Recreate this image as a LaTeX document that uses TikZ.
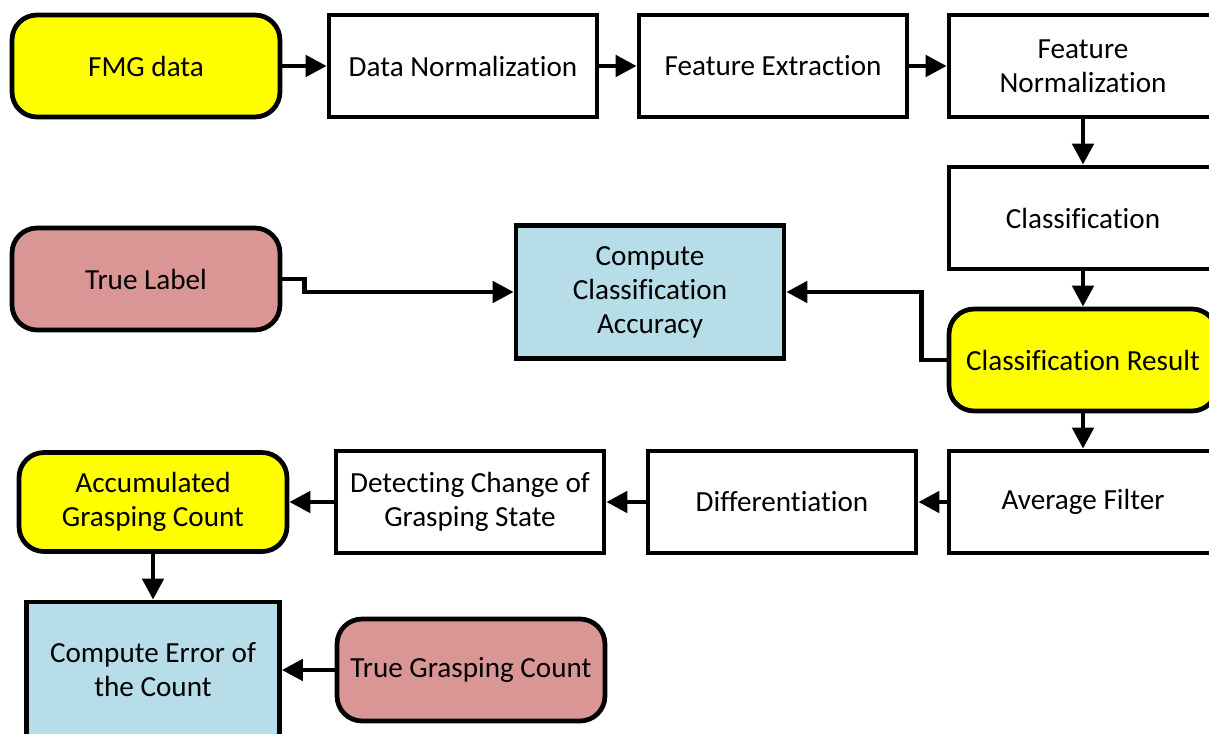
\documentclass[tikz,border=0pt]{standalone}
\usepackage{fontspec}
\setmainfont{Carlito}[Ligatures={NoCommon}]
\usetikzlibrary{arrows.meta}

\definecolor{termyellow}{RGB}{255,255,0}
\definecolor{truepink}{RGB}{218,150,148}
\definecolor{computeblue}{RGB}{183,222,232}

\tikzset{
  stepbox/.style={draw, line width=2.7pt, fill=white, minimum width=5.36cm,
    minimum height=2.04cm, align=center, font=\fontsize{16.6}{19.4}\selectfont},
  termbox/.style={stepbox, rounded corners=0.5cm, fill=termyellow},
  truebox/.style={stepbox, rounded corners=0.5cm, fill=truepink},
  computebox/.style={stepbox, fill=computeblue},
  flow/.style={line width=2.7pt, -{Triangle[length=0.42cm,width=0.42cm]}}
}

\begin{document}
\begin{tikzpicture}[x=0.02cm, y=-0.02cm]
\useasboundingbox (0,0) rectangle (1209,733);
\clip (0,0) rectangle (1209,733);
% top row
\node [termbox] (fmg) at (146,66) {FMG data};
\node [stepbox] (datanorm) at (463,66) {Data Normalization};
\node [stepbox] (featext) at (773,66) {Feature Extraction};
\node [stepbox] (featnorm) at (1083,66) {Feature\\Normalization};
% right column
\node [stepbox] (classif) at (1083,218) {Classification};
\node [termbox] (result) at (1083,360) {Classification Result};
\node [stepbox] (avgfilter) at (1083,502) {Average Filter};
% accuracy branch
\node [truebox] (truelabel) at (146,279) {True Label};
\node [computebox, minimum height=2.66cm] (accuracy) at (650,292) {Compute\\Classification\\Accuracy};
% counting row
\node [stepbox] (diff) at (782,502) {Differentiation};
\node [stepbox] (detect) at (470,502) {Detecting Change of\\Grasping State};
\node [termbox, minimum height=1.98cm] (accum) at (153,502) {Accumulated\\Grasping Count};
\node [computebox, minimum width=5.06cm, minimum height=2.72cm] (counterr) at (153,670) {Compute Error of\\the Count};
\node [truebox] (truecount) at (471,670) {True Grasping Count};

\draw [flow] (fmg) -- (datanorm);
\draw [flow] (datanorm) -- (featext);
\draw [flow] (featext) -- (featnorm);
\draw [flow] (featnorm) -- (classif);
\draw [flow] (classif) -- (result);
\draw [flow] (result) -- (avgfilter);
\draw [flow] (avgfilter) -- (diff);
\draw [flow] (diff) -- (detect);
\draw [flow] (detect) -- (accum);
\draw [flow] (accum) -- (counterr);
\draw [flow] (truecount) -- (counterr);
\draw [flow] (truelabel.east) -- ++(22,0) |- (accuracy.west);
\draw [flow] (result.west) -- ++(-25,0) |- (accuracy.east);
\end{tikzpicture}
\end{document}
